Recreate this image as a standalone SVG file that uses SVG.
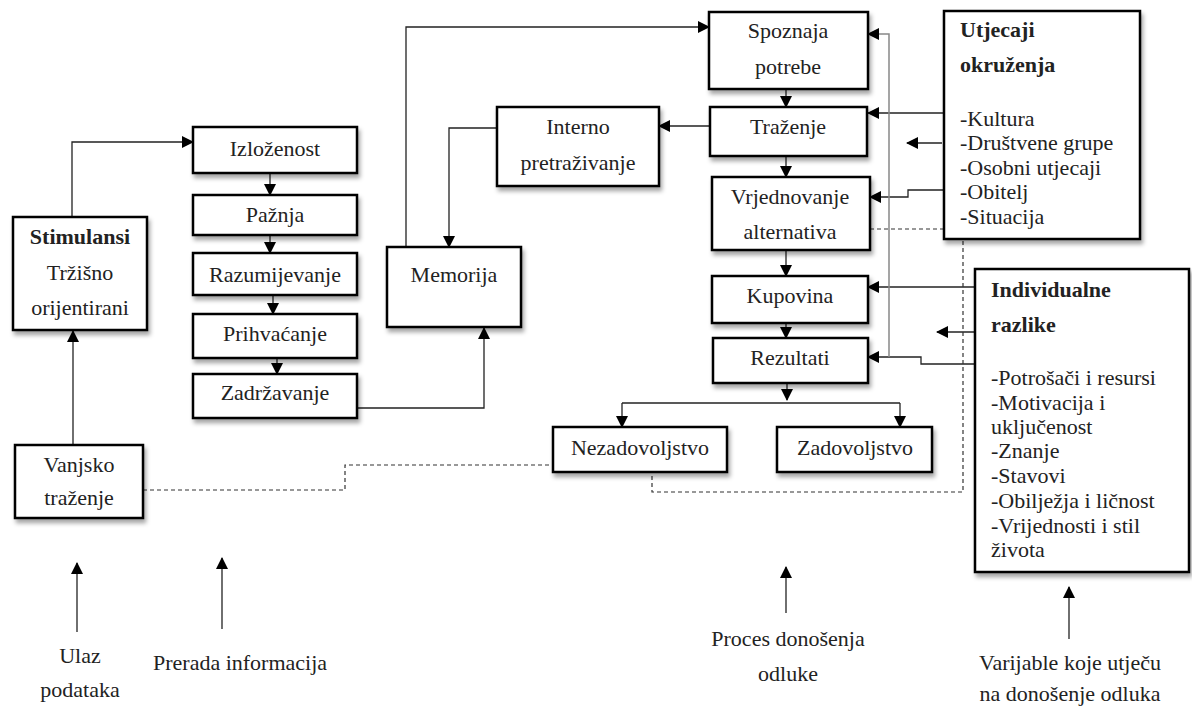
<svg xmlns="http://www.w3.org/2000/svg" width="1192" height="708" viewBox="0 0 1192 708">
<style>
.box{fill:#fff;stroke:#000;stroke-width:2.5;filter:url(#sh)}
text{font-family:'Liberation Serif','Times New Roman','DejaVu Serif',serif;font-size:22px;fill:#222}
.c{text-anchor:middle}
.b{font-weight:bold}
.ln{fill:none;stroke:#222;stroke-width:1.3}
.g{fill:none;stroke:#888;stroke-width:1.5}
.d{fill:none;stroke:#333;stroke-width:1.2;stroke-dasharray:4 3}
.a{marker-end:url(#ar)}
</style>
<defs>
<filter id="sh" x="-10%" y="-10%" width="130%" height="140%">
<feDropShadow dx="2" dy="4" stdDeviation="2.2" flood-color="#000" flood-opacity="0.35"/>
</filter>
<marker id="ar" markerUnits="userSpaceOnUse" markerWidth="12" markerHeight="12" viewBox="0 0 12 12" refX="11" refY="6" orient="auto">
<path d="M0,0 L12,6 L0,12 Z" fill="#000"/>
</marker>
</defs>

<g id="connectors">
<path class="ln a" d="M72,217 V142 H193"/>
<path class="ln a" d="M73,445 V331"/>
<path class="ln a" d="M270,173 V195"/>
<path class="ln a" d="M270,235 V253"/>
<path class="ln a" d="M273,295 V314"/>
<path class="ln a" d="M277,358 V374"/>
<path class="ln a" d="M357,408 H484 V328"/>
<path class="ln a" d="M406,247 V27 H709"/>
<path class="ln a" d="M497,128 H449 V247"/>
<path class="ln a" d="M710,126 H659"/>
<path class="ln a" d="M786,89 V107"/>
<path class="ln a" d="M786,156 V177"/>
<path class="ln a" d="M786,250 V276"/>
<path class="ln a" d="M786,323 V338"/>
<path class="ln a" d="M787,383 V400"/>
<path class="ln" d="M622,403 H900"/>
<path class="ln a" d="M622,403 V427"/>
<path class="ln a" d="M900,403 V427"/>
<path class="ln a" d="M944,113 H868"/>
<path class="ln a" d="M942,143 H907"/>
<path class="ln a" d="M944,190 H908 V197 H870"/>
<path class="ln a" d="M975,287 H868"/>
<path class="ln a" d="M975,332 H937"/>
<path class="ln a" d="M975,364 H921 V357 H868"/>
<path class="g a" d="M889,357 V34 H868"/>
<path class="d" d="M870,229 H963 V492 H652 V472"/>
<path class="d" d="M143,490 H345 V465 H553"/>
<path class="ln a" d="M77,632 V563"/>
<path class="ln a" d="M222,629 V558"/>
<path class="ln a" d="M786,613 V567"/>
<path class="ln a" d="M1069,639 V587"/>
</g>

<g id="stimulansi"><rect class="box" x="13" y="217" width="134" height="113"/>
<text class="c b" x="80" y="244">Stimulansi</text>
<text class="c" x="80" y="280">Tržišno</text>
<text class="c" x="80" y="315">orijentirani</text></g>

<g id="vanjsko"><rect class="box" x="15" y="445" width="128" height="73"/>
<text class="c" x="79" y="472">Vanjsko</text>
<text class="c" x="79" y="505">traženje</text></g>

<g id="izlozenost"><rect class="box" x="193" y="127" width="164" height="46"/>
<text class="c" x="275" y="156">Izloženost</text></g>
<g id="paznja"><rect class="box" x="193" y="195" width="164" height="40"/>
<text class="c" x="275" y="222">Pažnja</text></g>
<g id="razumijevanje"><rect class="box" x="193" y="253" width="164" height="42"/>
<text class="c" x="275" y="282">Razumijevanje</text></g>
<g id="prihvacanje"><rect class="box" x="193" y="314" width="164" height="44"/>
<text class="c" x="275" y="341">Prihvaćanje</text></g>
<g id="zadrzavanje"><rect class="box" x="193" y="374" width="164" height="44"/>
<text class="c" x="275" y="400">Zadržavanje</text></g>

<g id="memorija"><rect class="box" x="387" y="247" width="134" height="80"/>
<text class="c" x="454" y="282">Memorija</text></g>

<g id="interno"><rect class="box" x="497" y="107" width="162" height="79"/>
<text class="c" x="578" y="134">Interno</text>
<text class="c" x="578" y="170">pretraživanje</text></g>

<g id="spoznaja"><rect class="box" x="709" y="12" width="159" height="77"/>
<text class="c" x="788" y="38">Spoznaja</text>
<text class="c" x="788" y="74">potrebe</text></g>
<g id="trazenje"><rect class="box" x="710" y="107" width="157" height="49"/>
<text class="c" x="788" y="134">Traženje</text></g>
<g id="vrjednovanje"><rect class="box" x="712" y="177" width="158" height="73"/>
<text class="c" x="790" y="204">Vrjednovanje</text>
<text class="c" x="790" y="239">alternativa</text></g>
<g id="kupovina"><rect class="box" x="712" y="276" width="156" height="47"/>
<text class="c" x="790" y="303">Kupovina</text></g>
<g id="rezultati"><rect class="box" x="713" y="338" width="155" height="45"/>
<text class="c" x="790" y="365">Rezultati</text></g>

<g id="nezadovoljstvo"><rect class="box" x="553" y="427" width="174" height="45"/>
<text class="c" x="640" y="455">Nezadovoljstvo</text></g>
<g id="zadovoljstvo"><rect class="box" x="777" y="427" width="155" height="45"/>
<text class="c" x="855" y="455">Zadovoljstvo</text></g>

<g id="utjecaji"><rect class="box" x="944" y="11" width="196" height="228"/>
<text class="b" x="960" y="37">Utjecaji</text>
<text class="b" x="960" y="72">okruženja</text>
<text x="960" y="126">-Kultura</text>
<text x="960" y="150">-Društvene grupe</text>
<text x="960" y="175">-Osobni utjecaji</text>
<text x="960" y="199">-Obitelj</text>
<text x="960" y="224">-Situacija</text></g>

<g id="individualne"><rect class="box" x="975" y="269" width="214" height="303"/>
<text class="b" x="991" y="297">Individualne</text>
<text class="b" x="991" y="332">razlike</text>
<text x="991" y="385">-Potrošači i resursi</text>
<text x="991" y="410">-Motivacija i</text>
<text x="991" y="434">uključenost</text>
<text x="991" y="458">-Znanje</text>
<text x="991" y="483">-Stavovi</text>
<text x="991" y="508">-Obilježja i ličnost</text>
<text x="991" y="533">-Vrijednosti i stil</text>
<text x="991" y="557">života</text></g>

<g id="labels">
<text class="c" x="80" y="663">Ulaz</text>
<text class="c" x="80" y="697">podataka</text>
<text x="153" y="670">Prerada informacija</text>
<text class="c" x="788" y="646">Proces donošenja</text>
<text class="c" x="788" y="681">odluke</text>
<text class="c" x="1070" y="670">Varijable koje utječu</text>
<text class="c" x="1070" y="701">na donošenje odluka</text>
</g>
</svg>
